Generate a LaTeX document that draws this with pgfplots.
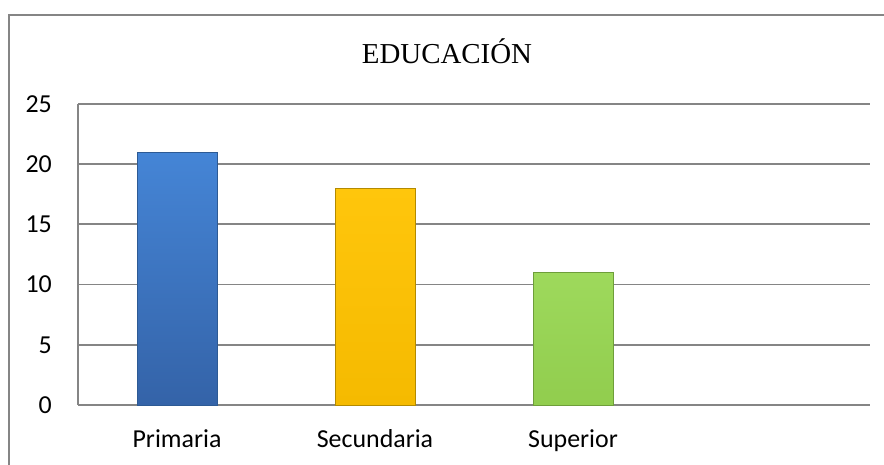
\documentclass[border=0pt]{standalone}
\usepackage{fontspec}
\setmainfont{Liberation Serif}
\newfontfamily\calibri{Carlito}
\usepackage{pgfplots}
\pgfplotsset{compat=1.18}
\definecolor{gridgray}{HTML}{858585}
\definecolor{blueTop}{HTML}{4585D6}
\definecolor{blueBot}{HTML}{3463A8}
\definecolor{blueEdge}{HTML}{2D5A94}
\definecolor{yelTop}{HTML}{FFC60C}
\definecolor{yelBot}{HTML}{F5BA00}
\definecolor{yelEdge}{HTML}{B38A00}
\definecolor{grnTop}{HTML}{9ED95C}
\definecolor{grnBot}{HTML}{91CD4E}
\definecolor{grnEdge}{HTML}{6E9E3A}
\begin{document}
\begin{tikzpicture}[x=1bp,y=1bp]
\useasboundingbox (0,0) rectangle (884,465);
\draw[gridgray, line width=1.6bp] (9,0) -- (9,450) -- (884,450);
\node[font=\fontsize{29}{29}\selectfont, anchor=base, inner sep=0pt] at (447,401) {EDUCACIÓN};
\begin{axis}[
  at={(78bp,60bp)}, anchor=south west,
  scale only axis, width=792bp, height=301bp,
  xmin=-0.5, xmax=3.5, ymin=0, ymax=25,
  ytick={0,5,10,15,20,25},
  xtick={0,1,2}, xticklabels={Primaria,Secundaria,Superior},
  axis lines*=left,
  axis line style={gridgray, line width=1.8bp},
  ymajorgrids, grid style={gridgray, line width=1.8bp},
  major tick length=0pt,
  /pgf/number format/assume math mode=true,
  tick label style={font=\calibri\fontsize{26}{26}\selectfont, text=black},
  yticklabel style={anchor=east, inner sep=0pt, xshift=-26bp},
  xticklabel style={anchor=base, inner sep=0pt, yshift=-43bp},
  clip=false,
]
\addplot[ybar, bar width=80bp, bar shift=0pt, top color=blueTop, bottom color=blueBot, draw=blueEdge, line width=0.8bp] coordinates {(0,21)};
\addplot[ybar, bar width=80bp, bar shift=0pt, top color=yelTop, bottom color=yelBot, draw=yelEdge, line width=0.8bp] coordinates {(1,18)};
\addplot[ybar, bar width=80bp, bar shift=0pt, top color=grnTop, bottom color=grnBot, draw=grnEdge, line width=0.8bp] coordinates {(2,11)};
\end{axis}
\end{tikzpicture}
\end{document}
